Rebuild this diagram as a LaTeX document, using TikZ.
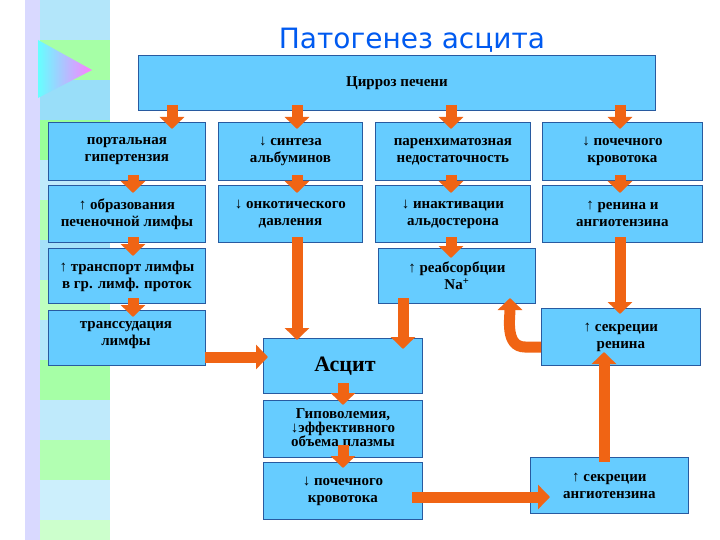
\documentclass[tikz,border=0pt]{standalone}
\usepackage{fontspec}
\setmainfont{Liberation Serif}
\newfontfamily\titlefont{DejaVu Sans}
\usetikzlibrary{arrows.meta,shapes.geometric}
\definecolor{boxblue}{RGB}{102,204,255}
\definecolor{edgeblue}{RGB}{40,90,160}
\definecolor{arr}{RGB}{240,100,20}
\definecolor{ttl}{RGB}{0,90,240}
\tikzset{
 bx/.style={draw=edgeblue,line width=0.8pt,fill=boxblue,inner sep=0pt},
 lbl/.style={align=center,font=\bfseries\fontsize{15}{17}\selectfont,text=black},
 ar/.style={draw=arr,line width=11pt,-{Triangle[width=24pt,length=12pt]}},
}
\begin{document}
\begin{tikzpicture}[x=1pt,y=-1pt]
\useasboundingbox (0,0) rectangle (720,540);
\fill[white] (0,0) rectangle (720,540);
\fill[green!25!cyan!30] (25,0) rectangle (110,540);
\foreach \y/\c in {0/cyan!30,40/green!35,80/cyan!40,120/green!40,160/cyan!25,200/green!30,240/cyan!35,280/green!25,320/cyan!30,360/green!35,400/cyan!25,440/green!30,480/cyan!20,520/green!20}
  \fill[\c] (25,\y) rectangle (110,\y+40);
\fill[blue!15] (25,0) rectangle (40,540);
\shade[left color=cyan!60, right color=magenta!50] (38,40) -- (92,70) -- (38,98) -- cycle;
\node[font=\titlefont\fontsize{28}{30}\selectfont,text=ttl] (title) at (412,40) {Патогенез асцита};
\node[bx,minimum width=517,minimum height=55,anchor=north west] (cir) at (138,55) {};
\node[lbl] at (cir) {Цирроз печени};
\node[bx,anchor=north west,minimum width=157,minimum height=58] (a1) at (48,122) {};
\node[lbl] at (a1) {портальная\\гипертензия};
\node[bx,anchor=north west,minimum width=144,minimum height=58] (b1) at (218,122) {};
\node[lbl] at (b1) {↓ синтеза\\альбуминов};
\node[bx,anchor=north west,minimum width=155,minimum height=58] (c1) at (375,122) {};
\node[lbl] at (c1) {паренхиматозная\\недостаточность};
\node[bx,anchor=north west,minimum width=160,minimum height=58] (d1) at (542,122) {};
\node[lbl] at (d1) {↓ почечного\\кровотока};
\node[bx,anchor=north west,minimum width=157,minimum height=57] (a2) at (48,185) {};
\node[lbl] at (a2) {↑ образования\\печеночной лимфы};
\node[bx,anchor=north west,minimum width=144,minimum height=57] (b2) at (218,185) {};
\node[lbl] at (b2) {↓ онкотического\\давления};
\node[bx,anchor=north west,minimum width=155,minimum height=57] (c2) at (375,185) {};
\node[lbl] at (c2) {↓ инактивации\\альдостерона};
\node[bx,anchor=north west,minimum width=160,minimum height=57] (d2) at (542,185) {};
\node[lbl] at (d2) {↑ ренина и\\ангиотензина};
\node[bx,anchor=north west,minimum width=157,minimum height=55] (a3) at (48,248) {};
\node[lbl] at (a3) {↑ транспорт лимфы\\в гр. лимф. проток};
\node[bx,anchor=north west,minimum width=157,minimum height=55] (c3) at (378,248) {};
\node[lbl] at (c3) {↑ реабсорбции\\Na\textsuperscript{+}};
\node[bx,anchor=north west,minimum width=157,minimum height=55] (a4) at (48,310) {};
\node[lbl,anchor=north] at (126,318) {транссудация\\лимфы};
\node[bx,anchor=north west,minimum width=159,minimum height=57] (d4) at (541,308) {};
\node[lbl] at (d4) {↑ секреции\\ренина};
\node[bx,anchor=north west,minimum width=159,minimum height=55] (asc) at (263,338) {};
\node[font=\bfseries\fontsize{22}{24}\selectfont] at (345,366) {Асцит};
\node[bx,anchor=north west,minimum width=159,minimum height=57] (hyp) at (263,400) {};
\node[align=center,font=\bfseries\fontsize{15}{14}\selectfont] at (343,428) {Гиповолемия,\\↓эффективного\\объема плазмы};
\node[bx,anchor=north west,minimum width=159,minimum height=57] (ren) at (263,462) {};
\node[lbl] at (ren) {↓ почечного\\кровотока};
\node[bx,anchor=north west,minimum width=158,minimum height=56] (ang) at (530,457) {};
\node[lbl] at (ang) {↑ секреции\\ангиотензина};
\draw[ar] (172,105) -- (172,129);
\draw[ar] (297,105) -- (297,129);
\draw[ar] (451,105) -- (451,129);
\draw[ar] (620,105) -- (620,129);
\draw[ar] (133,175) -- (133,193);
\draw[ar] (297,175) -- (297,193);
\draw[ar] (451,175) -- (451,193);
\draw[ar] (620,175) -- (620,193);
\draw[ar] (133,237) -- (133,256);
\draw[ar] (133,298) -- (133,317);
\draw[ar] (297,237) -- (297,340);
\draw[ar] (451,237) -- (451,258);
\draw[ar] (403,298) -- (403,349);
\draw[ar] (620,237) -- (620,314);
\draw[ar] (205,357) -- (268,357);
\draw[ar] (343,383) -- (343,405);
\draw[ar] (343,445) -- (343,468);
\draw[ar] (412,497) -- (550,497);
\draw[ar] (604,462) -- (604,352);
\draw[ar] (541,347) -- (525,347) to[out=180,in=270] (510,298);
\end{tikzpicture}
\end{document}
